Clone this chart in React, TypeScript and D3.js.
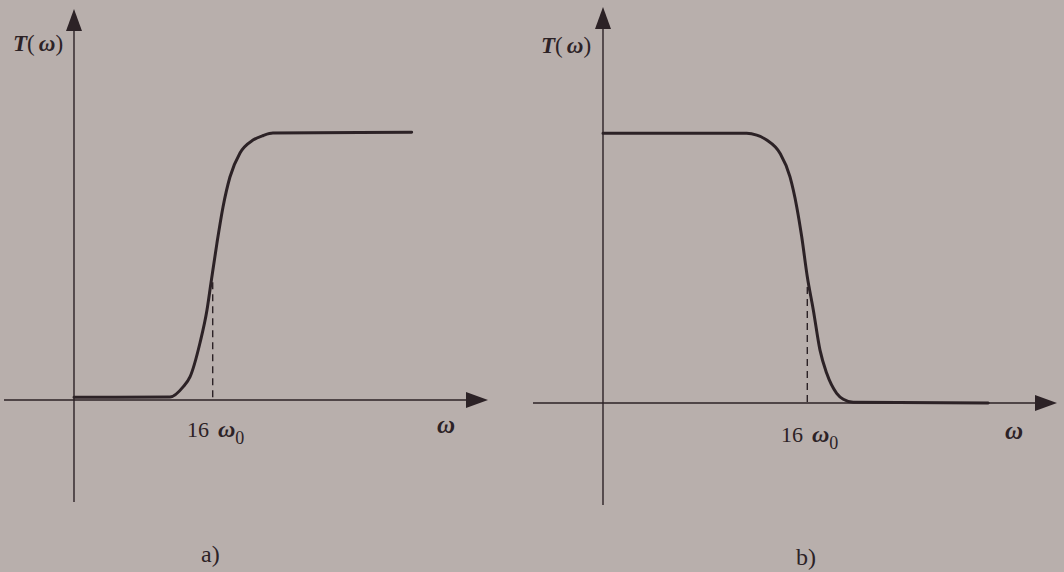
import React from "react";
import * as d3 from "d3";

// Panel a): high-pass response T(ω), ω in units of ω0
const highPassOmega = [0, 11.07, 12.61, 13.38, 14.53, 15.34, 15.8, 16.49, 17.19, 17.99, 19.15, 20.65, 21.83, 22.95, 38.95];
const highPassT = [0.01, 0.011, 0.05, 0.086, 0.213, 0.336, 0.437, 0.586, 0.721, 0.833, 0.923, 0.971, 0.988, 0.997, 1.0];

// Panel b): low-pass response T(ω)
const lowPassOmega = [0, 11.25, 12.04, 12.82, 13.86, 14.64, 15.17, 15.56, 16.0, 16.47, 16.99, 17.52, 18.3, 18.82, 19.6, 30.17];
const lowPassT = [1.0, 1.0, 0.993, 0.975, 0.926, 0.839, 0.728, 0.617, 0.468, 0.345, 0.197, 0.11, 0.036, 0.014, 0.003, 0.0];

// Cut-off marker (16 ω0) and the curve level where the dashed drop line starts
const cutoffOmega = 16;
const cutoffLevels = [0.44, 0.43];

const panelLetters = ["a)", "b)"];
const axisLabelY = "T(ω)";

const BG = "#b8afac";
const INK = "#2c2226";

type Panel = {
  omega: number[];
  t: number[];
  level: number;
  letter: string;
  // layout
  x0: number; // pixel of ω = 0
  x16: number; // pixel of ω = 16
  yTop: number; // pixel of T = 1
  yBase: number; // pixel of T = 0
  axisLeft: number;
  axisRight: number;
  axisTop: number;
  axisBottom: number;
  yLabelX: number;
  yLabelY: number;
  cutLabelX: number;
  cutLabelY: number;
  wLabelX: number;
  wLabelY: number;
  letterX: number;
  letterY: number;
};

const panels: Panel[] = [
  {
    omega: highPassOmega,
    t: highPassT,
    level: cutoffLevels[0],
    letter: panelLetters[0],
    x0: 74,
    x16: 212.7,
    yTop: 132.3,
    yBase: 400,
    axisLeft: 4,
    axisRight: 488,
    axisTop: 9,
    axisBottom: 502,
    yLabelX: 13,
    yLabelY: 51,
    cutLabelX: 187,
    cutLabelY: 437,
    wLabelX: 437,
    wLabelY: 433,
    letterX: 201,
    letterY: 562,
  },
  {
    omega: lowPassOmega,
    t: lowPassT,
    level: cutoffLevels[1],
    letter: panelLetters[1],
    x0: 603,
    x16: 807.3,
    yTop: 133.3,
    yBase: 403,
    axisLeft: 533,
    axisRight: 1057,
    axisTop: 7,
    axisBottom: 505,
    yLabelX: 541,
    yLabelY: 53,
    cutLabelX: 781,
    cutLabelY: 442,
    wLabelX: 1005,
    wLabelY: 439,
    letterX: 796,
    letterY: 565,
  },
];

function ResponsePanel({ p }: { p: Panel }) {
  const x = d3.scaleLinear().domain([0, cutoffOmega]).range([p.x0, p.x16]);
  const y = d3.scaleLinear().domain([0, 1]).range([p.yBase, p.yTop]);
  const pts: [number, number][] = p.omega.map((w, i) => [w, p.t[i]]);
  const line = d3
    .line<[number, number]>()
    .x((d) => x(d[0]))
    .y((d) => y(d[1]))
    .curve(d3.curveMonotoneX);

  const ah = 8; // arrowhead half width
  const al = 22; // arrowhead length

  return (
    <g>
      {/* axes */}
      <line x1={p.axisLeft} x2={p.axisRight - al + 2} y1={p.yBase} y2={p.yBase} stroke={INK} strokeWidth={1.4} />
      <line x1={p.x0} x2={p.x0} y1={p.axisBottom} y2={p.axisTop + al - 2} stroke={INK} strokeWidth={1.4} />
      <path
        d={`M${p.axisRight},${p.yBase} L${p.axisRight - al},${p.yBase - ah} L${p.axisRight - al},${p.yBase + ah} Z`}
        fill={INK}
      />
      <path
        d={`M${p.x0},${p.axisTop} L${p.x0 - ah},${p.axisTop + al} L${p.x0 + ah},${p.axisTop + al} Z`}
        fill={INK}
      />

      {/* dashed drop line at the cut-off */}
      <line
        x1={x(cutoffOmega)}
        x2={x(cutoffOmega)}
        y1={y(p.level)}
        y2={y(0)}
        stroke={INK}
        strokeWidth={1.4}
        strokeDasharray="7,5"
      />

      {/* response curve */}
      <path d={line(pts) ?? ""} fill="none" stroke={INK} strokeWidth={3} strokeLinejoin="round" strokeLinecap="round" />

      {/* labels */}
      <text x={p.yLabelX} y={p.yLabelY} fontSize={23} fill={INK}>
        <tspan fontWeight="bold" fontStyle="italic">{axisLabelY[0]}</tspan>
        <tspan>{axisLabelY[1]}</tspan>
        <tspan fontStyle="italic" fontWeight="bold" dx={4}>{axisLabelY[2]}</tspan>
        <tspan>{axisLabelY[3]}</tspan>
      </text>
      <text x={p.cutLabelX} y={p.cutLabelY} fontSize={22} fill={INK}>
        <tspan>16</tspan>
        <tspan dx={9} fontStyle="italic" fontWeight="bold" fontSize={24}>ω</tspan>
        <tspan dy={7} fontSize={18}>0</tspan>
      </text>
      <text x={p.wLabelX} y={p.wLabelY} fontSize={25} fontStyle="italic" fontWeight="bold" fill={INK}>
        ω
      </text>
      <text x={p.letterX} y={p.letterY} fontSize={24} fill={INK}>
        {p.letter}
      </text>
    </g>
  );
}

export default function App() {
  return (
    <svg
      width={1064}
      height={572}
      style={{ position: "fixed", left: 0, top: 0, display: "block" }}
      fontFamily="'Liberation Serif', 'DejaVu Serif', serif"
    >
      <rect width={1064} height={572} fill={BG} />
      {panels.map((p) => (
        <ResponsePanel key={p.letter} p={p} />
      ))}
    </svg>
  );
}
